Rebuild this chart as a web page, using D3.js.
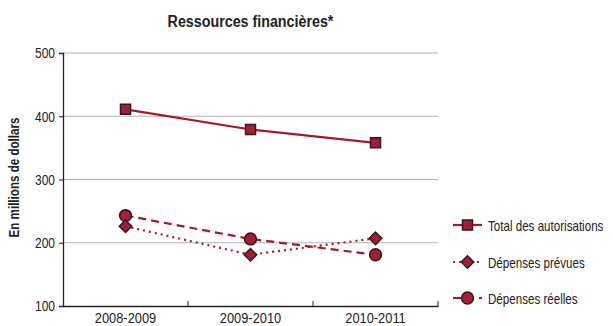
<!DOCTYPE html>
<html>
<head>
<meta charset="utf-8">
<script src="https://cdn.jsdelivr.net/npm/d3@7"></script>
<style>
  body { margin: 0; background: #fff; }
  svg { display: block; }
  text { font-family: "Liberation Sans", Arial, sans-serif; fill: #222; }
</style>
</head>
<body>
<svg id="chart" width="613" height="326"></svg>
<script>
// Fiscal years and amounts (millions of dollars)
const years = ["2008-2009", "2009-2010", "2010-2011"];
const totalAuthorities = [411, 379, 358];
const plannedSpending = [226, 181, 207];
const actualSpending = [243, 206, 181];
const yTicks = [100, 200, 300, 400, 500];
const seriesNames = ["Total des autorisations", "Dépenses prévues", "Dépenses réelles"];

const red = "#a3192f";
const fill = "#a81d35";
const edge = "#2b1b1d";

const svg = d3.select("#chart");
const m = { left: 63, right: 438, top: 53, bottom: 306 };

const x = d3.scaleBand().domain(years).range([m.left, m.right]);
const y = d3.scaleLinear().domain([100, 500]).range([m.bottom, m.top]);
const cx = d => x(d) + x.bandwidth() / 2;

// Narrow text: draw a normal face and squeeze it horizontally
function label(parent, o) {
  const g = parent.append("g")
    .attr("transform", `translate(${o.x},${o.y})` + (o.rot ? ` rotate(${o.rot})` : "") + ` scale(${o.sx},1)`);
  g.append("text").attr("text-anchor", o.anchor || "start")
    .attr("font-size", o.size).attr("font-weight", o.weight || "normal")
    .text(o.txt);
  return g;
}

// Title
label(svg, { x: (m.left + m.right) / 2, y: 27, txt: "Ressources financières*", size: 17, weight: "bold", anchor: "middle", sx: 0.84 });

// Gridlines
svg.append("g").selectAll("line").data(yTicks.filter(t => t > 100)).join("line")
  .attr("x1", m.left).attr("x2", m.right)
  .attr("y1", d => y(d)).attr("y2", d => y(d))
  .attr("stroke", "#b3b3b3").attr("stroke-width", 1.2);

// Y axis
const ySx = 0.8;
const yAxis = svg.append("g").attr("transform", `translate(${m.left},0)`)
  .call(d3.axisLeft(y).tickValues(yTicks).tickSize(4).tickPadding(4));
yAxis.select(".domain").attr("stroke", "#222").attr("stroke-width", 1.3);
yAxis.selectAll(".tick line").attr("stroke", "#222");
yAxis.selectAll("text").attr("font-size", 15).attr("fill", "#222")
  .attr("x", -8 / ySx).attr("transform", `scale(${ySx},1)`)
  .style("font-family", "'Liberation Sans', Arial, sans-serif");

// X axis: labels centred under each year, small ticks pointing up at band edges
const xSx = 0.83;
const xAxis = svg.append("g").attr("transform", `translate(0,${m.bottom})`)
  .call(d3.axisBottom(x).tickSize(0).tickPadding(0));
xAxis.select(".domain").attr("stroke", "#222").attr("stroke-width", 1.3);
xAxis.selectAll("text").attr("font-size", 15.5).attr("fill", "#222")
  .attr("dy", null).attr("y", 17).attr("transform", `scale(${xSx},1)`)
  .style("font-family", "'Liberation Sans', Arial, sans-serif");
xAxis.selectAll("line.edge").data(years).join("line").attr("class", "edge")
  .attr("x1", d => x(d) + x.bandwidth()).attr("x2", d => x(d) + x.bandwidth())
  .attr("y1", 0).attr("y2", -5).attr("stroke", "#222");

// Y axis title
label(svg, { x: 19, y: (m.top + m.bottom) / 2 - 2, rot: -90, txt: "En millions de dollars", size: 14.5, weight: "bold", anchor: "middle", sx: 0.8 });

// Marker shapes
const markers = {
  square: d3.symbol().type(d3.symbolSquare).size(100),
  diamond: d3.symbol().type(d3.symbolSquare).size(78),
  circle: d3.symbol().type(d3.symbolCircle).size(110)
};
function drawMarker(g, kind, px, py) {
  g.append("path").attr("d", markers[kind]())
    .attr("transform", `translate(${px},${py})` + (kind === "diamond" ? " rotate(45)" : ""))
    .attr("fill", fill).attr("stroke", edge).attr("stroke-width", 1.5);
}

const series = [
  { name: seriesNames[0], values: totalAuthorities, dash: null, marker: "square" },
  { name: seriesNames[1], values: plannedSpending, dash: "2,4", marker: "diamond" },
  { name: seriesNames[2], values: actualSpending, dash: "8,5", marker: "circle" }
];

const line = d3.line().x(d => cx(d.year)).y(d => y(d.value));

series.forEach(s => {
  const pts = years.map((yr, i) => ({ year: yr, value: s.values[i] }));
  svg.append("path").datum(pts).attr("d", line)
    .attr("fill", "none").attr("stroke", red).attr("stroke-width", 2.2)
    .attr("stroke-dasharray", s.dash);
});
[2, 1, 0].forEach(k => {
  const s = series[k];
  const g = svg.append("g");
  years.forEach((yr, i) => drawMarker(g, s.marker, cx(yr), y(s.values[i])));
});

// Legend
const legendY = [225, 262, 298];
series.forEach((s, i) => {
  const g = svg.append("g");
  g.append("line").attr("x1", 453).attr("x2", 482)
    .attr("y1", legendY[i]).attr("y2", legendY[i])
    .attr("stroke", red).attr("stroke-width", 2.2).attr("stroke-dasharray", s.dash);
  drawMarker(g, s.marker, 467.5, legendY[i]);
  label(g, { x: 488, y: legendY[i] + 5.5, txt: s.name, size: 14.5, sx: 0.8 });
});
</script>
</body>
</html>
